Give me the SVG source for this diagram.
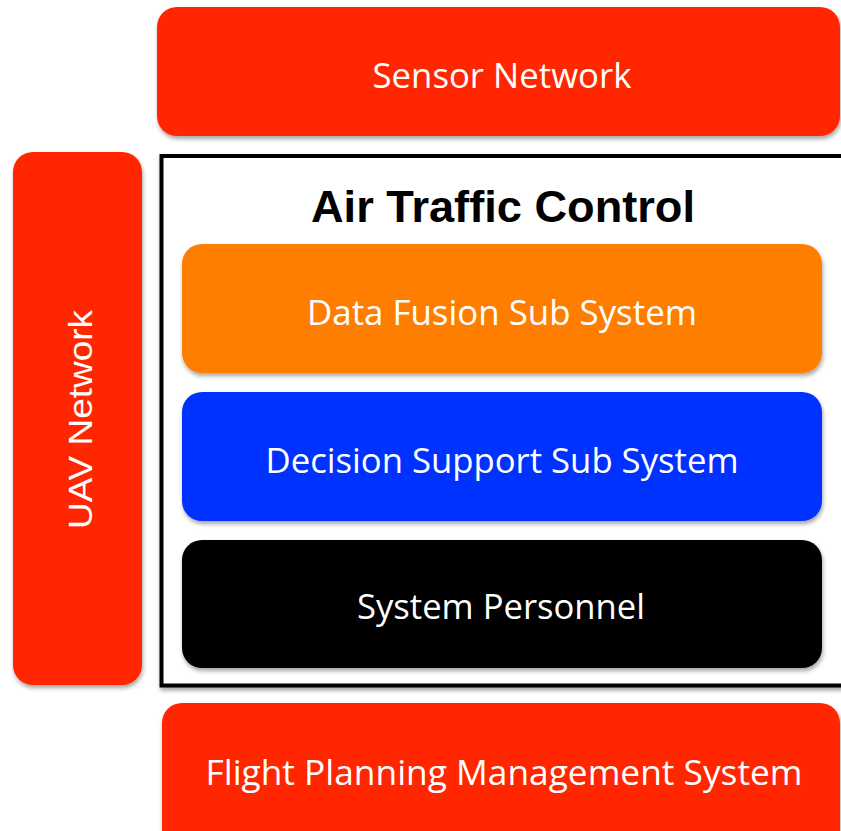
<svg xmlns="http://www.w3.org/2000/svg" width="841" height="831" viewBox="0 0 841 831">
  <defs>
    <filter id="shadow" x="-10%" y="-10%" width="120%" height="130%">
      <feDropShadow dx="1" dy="3" stdDeviation="2" flood-color="#000" flood-opacity="0.35"/>
    </filter>
    <style>
      .box { filter: url(#shadow); }
      .red { fill: #FF2600; }
      .orange { fill: #FF7E00; }
      .blue { fill: #0433FF; }
      .black { fill: #000000; }
      .label { font-family: "Open Sans", "Noto Sans", sans-serif; font-size: 35px; fill: #FFFFFF; text-anchor: middle; }
      .title { font-family: "Liberation Sans", Arial, sans-serif; font-weight: bold; font-size: 45px; fill: #000000; text-anchor: middle; }
      .vlabel { font-family: "Liberation Sans", Arial, sans-serif; font-size: 34px; fill: #FFFFFF; text-anchor: middle; }
    </style>
  </defs>
  <rect width="841" height="831" fill="#FFFFFF"/>

  <g id="sensor-network">
    <rect class="box red" x="157" y="7" width="683" height="129" rx="20"/>
    <text class="label" x="502" y="88" textLength="259" lengthAdjust="spacingAndGlyphs">Sensor Network</text>
  </g>

  <g id="uav-network">
    <rect class="box red" x="13" y="152" width="129" height="533" rx="20"/>
    <text class="vlabel" transform="translate(92,419.5) rotate(-90)" textLength="219" lengthAdjust="spacingAndGlyphs">UAV Network</text>
  </g>

  <g id="air-traffic-control">
    <rect class="box" x="161.5" y="156" width="690" height="529.5" fill="#FFFFFF" stroke="#000000" stroke-width="4"/>
    <text class="title" x="503" y="222" textLength="384" lengthAdjust="spacingAndGlyphs">Air Traffic Control</text>
  </g>

  <g id="data-fusion">
    <rect class="box orange" x="182" y="244" width="640" height="129" rx="20"/>
    <text class="label" x="502" y="325" textLength="390" lengthAdjust="spacingAndGlyphs">Data Fusion Sub System</text>
  </g>

  <g id="decision-support">
    <rect class="box blue" x="182" y="392" width="640" height="129" rx="20"/>
    <text class="label" x="502" y="473" textLength="473" lengthAdjust="spacingAndGlyphs">Decision Support Sub System</text>
  </g>

  <g id="system-personnel">
    <rect class="box black" x="182" y="540" width="640" height="128" rx="20"/>
    <text class="label" x="501" y="619" textLength="288" lengthAdjust="spacingAndGlyphs">System Personnel</text>
  </g>

  <g id="flight-planning">
    <rect class="box red" x="162" y="703" width="678" height="150" rx="20"/>
    <text class="label" x="504" y="785" textLength="597" lengthAdjust="spacingAndGlyphs">Flight Planning Management System</text>
  </g>

  <g id="connectors"/>
</svg>
